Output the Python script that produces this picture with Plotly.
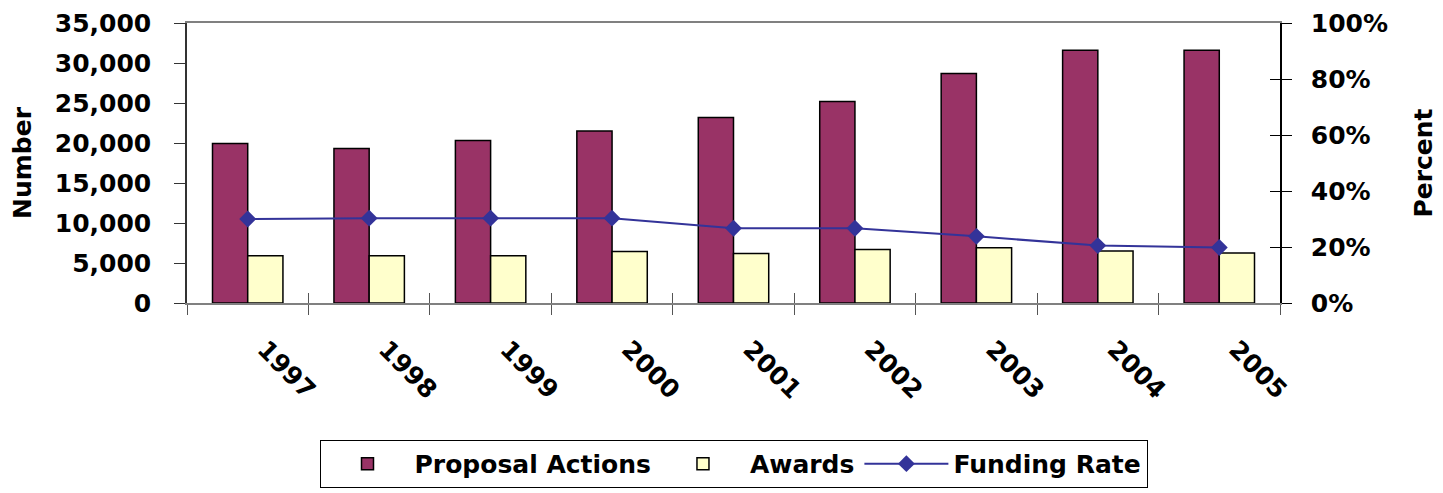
import plotly.graph_objects as go

years = ["1997", "1998", "1999", "2000", "2001", "2002", "2003", "2004", "2005"]
proposal_actions = [19950, 19300, 20300, 21500, 23200, 25200, 28700, 31600, 31600]
awards = [5900, 5900, 5900, 6450, 6200, 6700, 6900, 6500, 6250]
funding_rate = [0.300, 0.303, 0.303, 0.303, 0.267, 0.267, 0.238, 0.205, 0.198]

left_ticks = [0, 5000, 10000, 15000, 20000, 25000, 30000, 35000]
right_ticks = [0, 0.2, 0.4, 0.6, 0.8, 1.0]

FONT = "DejaVu Sans"
fnt = dict(family=FONT, size=25, color="black", weight="bold")

fig = go.Figure()
fig.add_trace(go.Bar(x=years, y=proposal_actions, name="Proposal Actions",
                     marker=dict(color="#993366", line=dict(color="black", width=1.5))))
fig.add_trace(go.Bar(x=years, y=awards, name="Awards",
                     marker=dict(color="#FFFFCC", line=dict(color="black", width=1.5))))
fig.add_trace(go.Scatter(x=years, y=funding_rate, name="Funding Rate", yaxis="y2",
                         mode="lines+markers",
                         line=dict(color="#333399", width=2),
                         marker=dict(symbol="diamond", size=13, color="#333399")))

n = len(years)
bounds = [i - 0.5 for i in range(n + 1)]

fig.update_layout(
    width=1435, height=485,
    margin=dict(l=179, r=163, t=15, b=190, autoexpand=False),
    paper_bgcolor="white", plot_bgcolor="white",
    barmode="group", bargap=0.42, bargroupgap=0,
    font=fnt,
    showlegend=True,
    legend=dict(orientation="h", x=0.5, xanchor="center", y=-0.489, yanchor="top",
                font=dict(family=FONT, size=25, color="black", weight="bold"),
                bordercolor="black", borderwidth=1, bgcolor="white",
                itemwidth=84, traceorder="normal"),
    xaxis=dict(type="category", range=[-0.5, n - 0.5], tickson="boundaries",
               ticks="outside", ticklen=10, tickcolor="#555555", tickwidth=1,
               showline=True, linecolor="#808080", linewidth=1.5, mirror=True,
               showgrid=False, zeroline=False, tickangle=45,
               ticklabelstandoff=20, ticklabelshift=17, automargin=False,
               ticklabeloverflow="allow", tickfont=fnt),
    xaxis2=dict(overlaying="x", anchor="y", range=[-0.5, n - 0.5],
                tickvals=bounds, ticks="inside", ticklen=10, tickcolor="#555555",
                showticklabels=False, showline=False, showgrid=False, zeroline=False,
                automargin=False),
    yaxis=dict(range=[0, 35000], tickvals=left_ticks, tickformat=",d",
               ticks="outside", ticklen=11, tickcolor="#333333",
               showline=True, linecolor="#333333", linewidth=1.5,
               showgrid=False, zeroline=False, ticklabelstandoff=18,
               tickfont=fnt, automargin=False, ticklabeloverflow="allow",
               title=dict(text="Number", font=fnt, standoff=19)),
    yaxis2=dict(range=[0, 1], tickvals=right_ticks, tickformat=".0%",
                overlaying="y", side="right", anchor="x",
                ticks="outside", ticklen=10, tickcolor="black",
                showline=True, linecolor="black", linewidth=1.5,
                showgrid=False, zeroline=False, ticklabelstandoff=14,
                tickfont=fnt, automargin=False, ticklabeloverflow="allow",
                title=dict(text="Percent", font=fnt, standoff=28)),
    yaxis3=dict(range=[0, 1], tickvals=right_ticks, overlaying="y", side="right",
                anchor="x", ticks="inside", ticklen=10, tickcolor="black",
                showticklabels=False, showline=False, showgrid=False, zeroline=False,
                automargin=False),
)

fig.add_trace(go.Scatter(x=[None], y=[None], xaxis="x2", yaxis="y3",
                         showlegend=False, hoverinfo="skip"))

fig.write_html("out.html")
